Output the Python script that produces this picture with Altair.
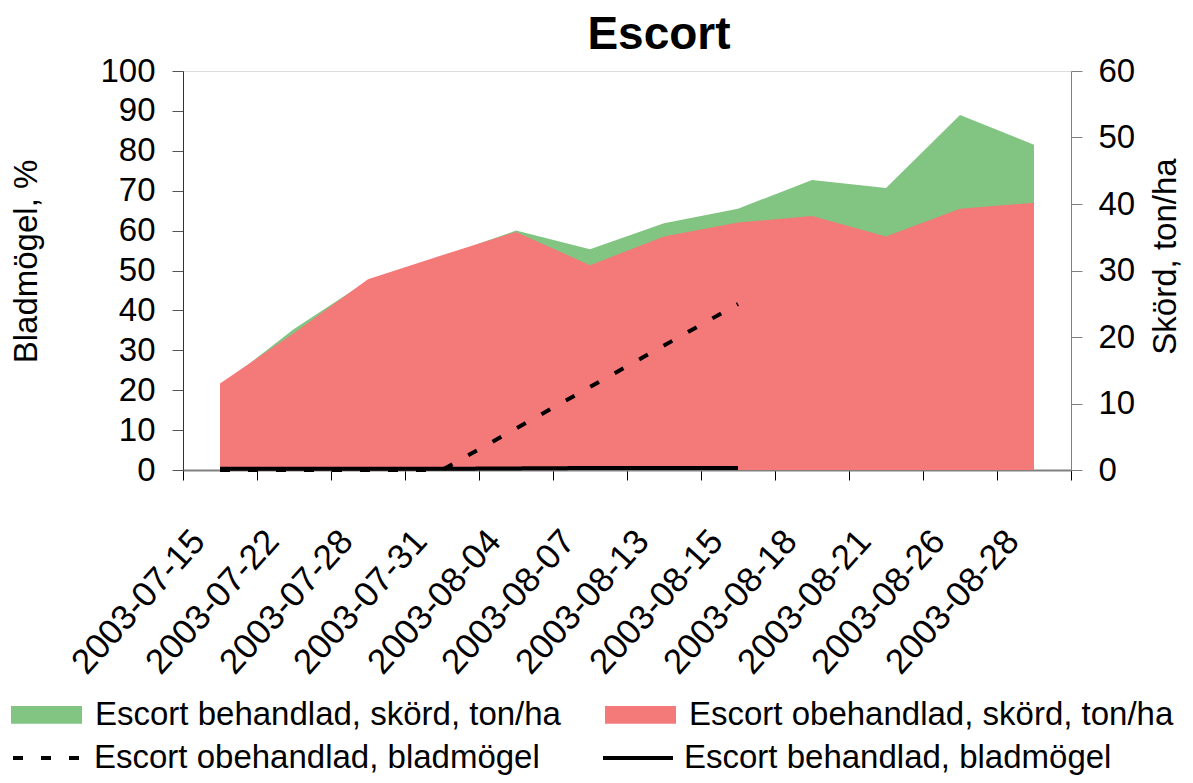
import altair as alt
import pandas as pd

# ---- data ----
dates = ["2003-07-15", "2003-07-22", "2003-07-28", "2003-07-31", "2003-08-04",
         "2003-08-07", "2003-08-13", "2003-08-15", "2003-08-18", "2003-08-21",
         "2003-08-26", "2003-08-28"]
yield_behandlad = [12.6, 21.2, 28.5, 32.1, 36.0, 33.2, 37.1, 39.3, 43.6, 42.4, 53.4, 48.9]
yield_obehandlad = [13.0, 20.6, 28.7, 32.3, 35.8, 30.8, 35.1, 37.2, 38.2, 35.1, 39.3, 40.2]
mogel_dates = dates[:8]
mogel_obehandlad = [0, 0, 0, 0, 10.4, 20.8, 31.2, 41.6]
mogel_behandlad = [0.3, 0.3, 0.3, 0.3, 0.4, 0.5, 0.5, 0.5]

S_GREEN = "Escort behandlad, skörd, ton/ha"
S_RED = "Escort obehandlad, skörd, ton/ha"
S_DASH = "Escort obehandlad, bladmögel"
S_SOLID = "Escort behandlad, bladmögel"

GREEN = "#82c482"
RED = "#f47a7a"
FONT = "Liberation Sans"
FS = 33

yield_df = pd.DataFrame({
    "date": dates * 2,
    "value": yield_behandlad + yield_obehandlad,
    "series": [S_GREEN] * len(dates) + [S_RED] * len(dates),
})
mogel_df = pd.DataFrame({
    "date": mogel_dates * 2,
    "value": mogel_obehandlad + mogel_behandlad,
    "series": [S_DASH] * len(mogel_dates) + [S_SOLID] * len(mogel_dates),
})

x_enc = alt.X(
    "date:N", sort=dates, title=None, bandPosition=0.5,
    scale=alt.Scale(type="band", domain=dates, paddingInner=0, paddingOuter=0),
    axis=alt.Axis(tickBand="extent", labelAngle=-48, labelAlign="right",
                  labelBaseline="middle", labelFontSize=35, labelFont=FONT,
                  labelColor="black", labelPadding=55, labelOffset=-22,
                  labelOverlap=False, labelLimit=0, tickSize=10,
                  tickColor="black", domainColor="#808080", domainWidth=2,
                  grid=False),
)

fill_enc = alt.Fill(
    "series:N",
    scale=alt.Scale(domain=[S_GREEN, S_RED], range=[GREEN, RED]),
    legend=alt.Legend(title=None, orient="none", legendX=-172, legendY=608,
                      direction="horizontal", columns=2, columnPadding=44,
                      symbolType="M-1,-0.25L1,-0.25L1,0.25L-1,0.25Z",
                      symbolSize=5041, symbolStrokeWidth=0, symbolOpacity=1,
                      labelFontSize=FS, labelFont=FONT, labelColor="black",
                      labelOffset=13, labelLimit=0),
)

y_right = alt.Y(
    "value:Q", scale=alt.Scale(domain=[0, 60], nice=False),
    axis=alt.Axis(orient="right", values=list(range(0, 61, 10)),
                  title="Skörd, ton/ha", titleFontSize=FS, titleFont=FONT,
                  titleFontWeight="normal", titleColor="black", titleAngle=270,
                  titleX=94, titleY=185, titleAlign="center", titleBaseline="middle",
                  labelFontSize=FS, labelFont=FONT, labelColor="black",
                  tickSize=11, labelPadding=16, tickColor="#808080",
                  domainColor="#808080", grid=False),
)

y_left = alt.Y(
    "value:Q", scale=alt.Scale(domain=[0, 100], nice=False),
    axis=alt.Axis(orient="left", values=list(range(0, 101, 10)),
                  title="Bladmögel, %", titleFontSize=FS, titleFont=FONT,
                  titleFontWeight="normal", titleColor="black", titleAngle=270,
                  titleX=-157, titleY=190, titleAlign="center", titleBaseline="middle",
                  labelFontSize=FS, labelFont=FONT, labelColor="black",
                  tickSize=11, labelPadding=17, tickColor="#555555",
                  domainColor="#333333", grid=False),
)

dash_enc = alt.StrokeDash(
    "series:N",
    scale=alt.Scale(domain=[S_DASH, S_SOLID], range=[[10, 18], [1, 0]]),
    legend=alt.Legend(title=None, orient="none", legendX=-172, legendY=650,
                      direction="horizontal", columns=2, columnPadding=55,
                      symbolType="stroke", symbolSize=4900, symbolStrokeWidth=4,
                      symbolStrokeColor="black", labelFontSize=FS, labelFont=FONT,
                      labelColor="black", labelOffset=9, labelLimit=0),
)

ybase = alt.Chart(yield_df)
green = ybase.transform_filter(alt.datum.series == S_GREEN).mark_area(
    opacity=1, line=False).encode(x=x_enc, y=y_right, fill=fill_enc)
red = ybase.transform_filter(alt.datum.series == S_RED).mark_area(
    opacity=1, line=False).encode(x=x_enc, y=y_right, fill=fill_enc)

mbase = alt.Chart(mogel_df)
lines = mbase.mark_line(color="black", strokeWidth=4, strokeCap="butt").encode(
    x=x_enc, y=y_left, strokeDash=dash_enc, detail="series:N")

chart = alt.layer(
    alt.layer(green, red),
    lines,
).resolve_scale(y="independent").properties(
    width=888, height=399,
    autosize=alt.AutoSizeParams(type="none"),
    padding={"left": 175, "top": 63, "right": 114, "bottom": 305},
    title=alt.TitleParams("Escort", fontSize=46, fontWeight="bold", font=FONT,
                          color="black", anchor="middle", dx=32, offset=-4),
).configure_view(stroke=None).configure(background="white")

chart.save("out.html", embed_options={"renderer": "svg", "actions": False})
